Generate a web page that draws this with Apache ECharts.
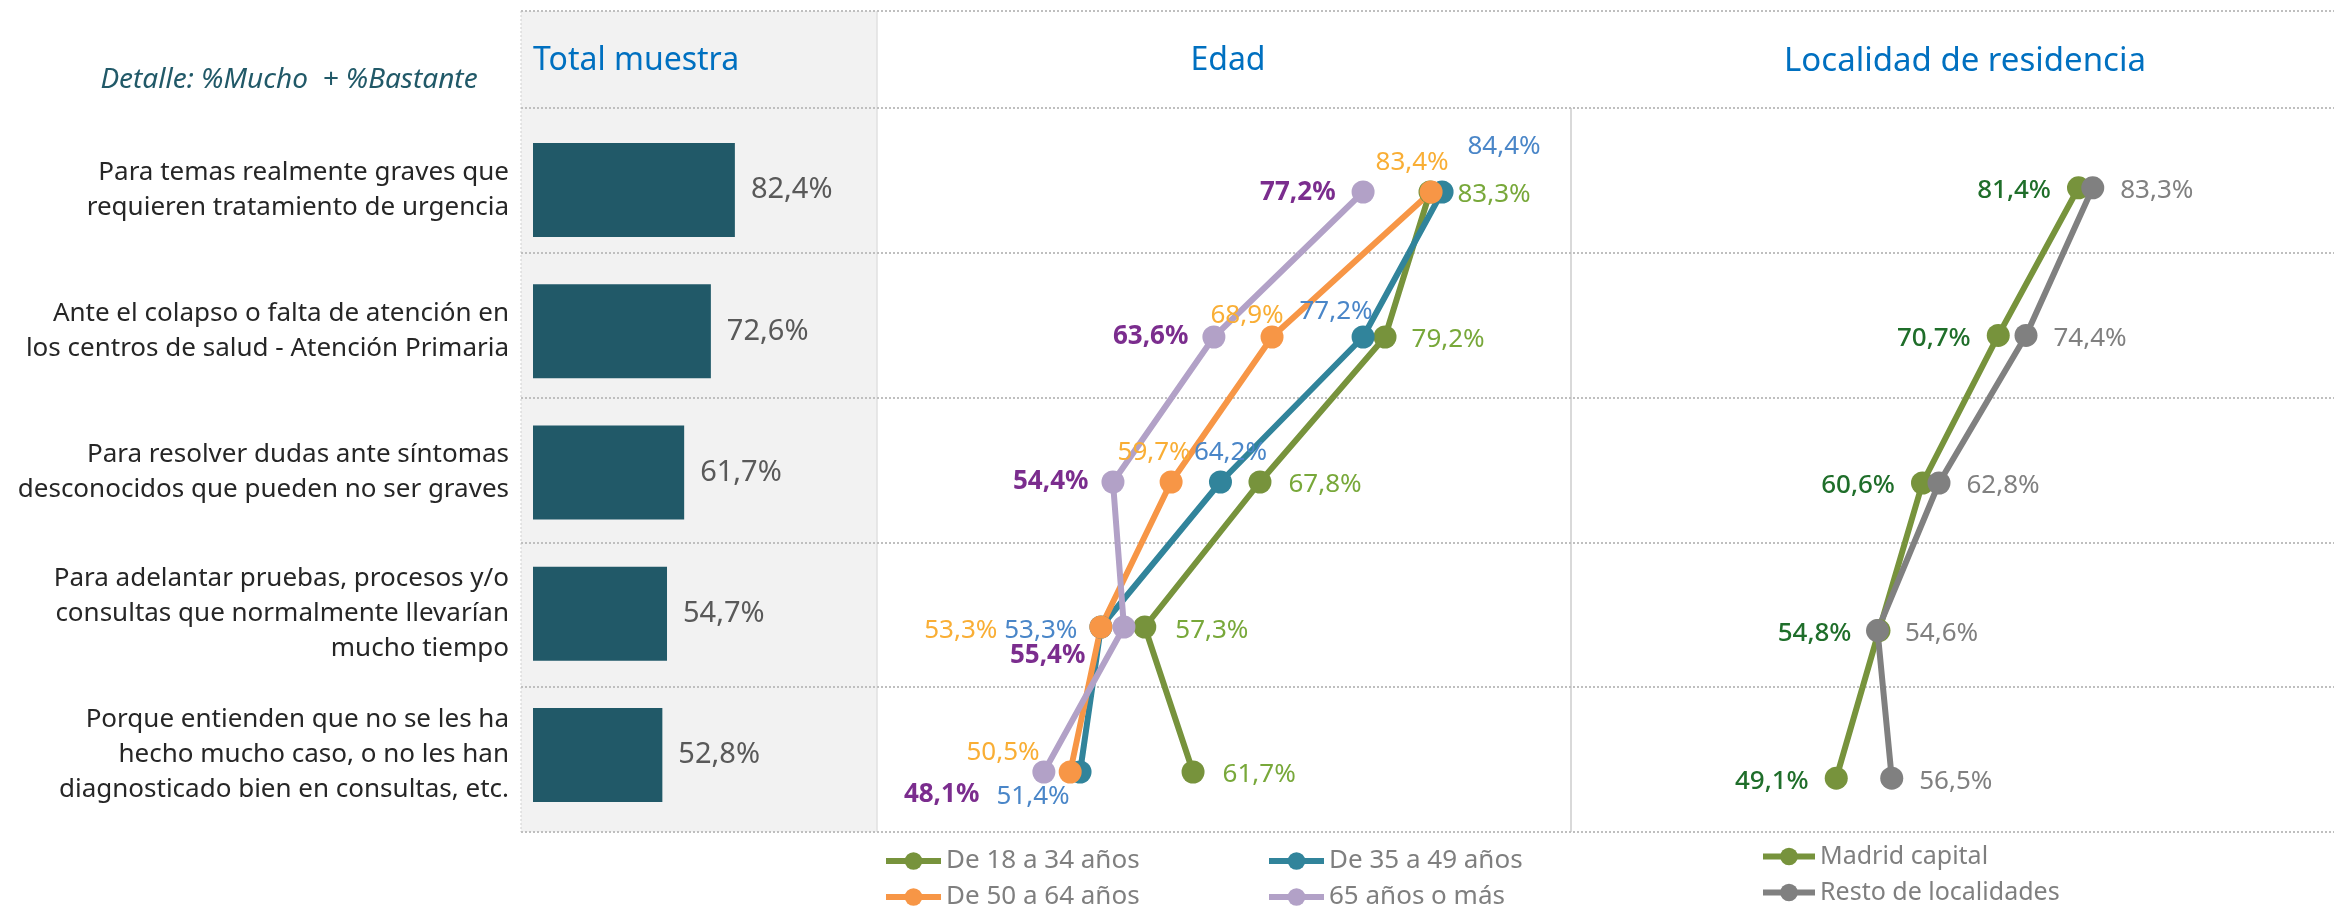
<!DOCTYPE html>
<html>
<head>
<meta charset="utf-8">
<script src="https://cdn.jsdelivr.net/npm/echarts@6/dist/echarts.min.js"></script>
<style>
  html, body { margin: 0; padding: 0; background: #fff; }
  #chart { width: 2334px; height: 909px; }
</style>
</head>
<body>
<div id="chart"></div>
<script>
// categories (motivos)
const items = [
  'Para temas realmente graves que\nrequieren tratamiento de urgencia',
  'Ante el colapso o falta de atención en\nlos centros de salud - Atención Primaria',
  'Para resolver dudas ante síntomas\ndesconocidos que pueden no ser graves',
  'Para adelantar pruebas, procesos y/o\nconsultas que normalmente llevarían\nmucho tiempo',
  'Porque entienden que no se les ha\nhecho mucho caso, o no les han\ndiagnosticado bien en consultas, etc.'
];

const totalMuestra = [82.4, 72.6, 61.7, 54.7, 52.8];

const edad18a34 = [83.3, 79.2, 67.8, 57.3, 61.7];
const edad35a49 = [84.4, 77.2, 64.2, 53.3, 51.4];
const edad50a64 = [83.4, 68.9, 59.7, 53.3, 50.5];
const edad65mas = [77.2, 63.6, 54.4, 55.4, 48.1];

const madridCapital = [81.4, 70.7, 60.6, 54.8, 49.1];
const restoLocalidades = [83.3, 74.4, 62.8, 54.6, 56.5];

const FONT = 'Noto Sans';
const pct = v => v.toFixed(1).replace('.', ',') + '%';

// label placement per point: [position, distance, offsetX, offsetY]
const placeGreen = [['right', 16, 0, 3], ['right', 15, 0, 3], ['right', 17, 0, 3], ['right', 19, 0, 4], ['right', 18, 0, 3]];
const placeTeal = [['top', 5, 62, -16], ['top', 5, -27, 4], ['top', 5, 10, 0], ['left', 12, 0, 4], ['bottom', 5, -47, -5]];
const placeOrange = [['top', 5, -19, 0], ['top', 5, -25, 8], ['top', 5, -17, 0], ['left', 92, 0, 4], ['left', 19, 0, -19]];
const placePurple = [['left', 16, 0, 1], ['left', 14, 0, 0], ['left', 13, 0, 0], ['left', 27, 0, 29], ['left', 53, 0, 23]];
const placeMadrid = [0, 1, 2, 3, 4].map(() => ['left', 16, 0, 3]);
const placeResto = [0, 1, 2, 3, 4].map(() => ['right', 16, 0, 3]);

function lineSeries(name, values, place, lineColor, labelColor, axis, weight) {
  return {
    name: name,
    type: 'line',
    xAxisIndex: axis,
    yAxisIndex: axis,
    symbol: 'circle',
    symbolSize: 23,
    lineStyle: { color: lineColor, width: 6 },
    itemStyle: { color: lineColor },
    emphasis: { disabled: true },
    data: values.map((v, i) => ({
      value: [v, items[i]],
      label: {
        show: true,
        position: place[i][0],
        distance: place[i][1],
        offset: [place[i][2], place[i][3]],
        formatter: pct(v),
        color: labelColor,
        fontFamily: FONT,
        fontSize: 26,
        fontWeight: weight || 'normal'
      }
    }))
  };
}

const sepY = [11, 108, 253, 398, 543, 687, 832];
const graphics = [
  { type: 'rect', shape: { x: 521, y: 11, width: 356, height: 821 }, style: { fill: '#f2f2f2' }, z: -10 },
  { type: 'line', shape: { x1: 521, y1: 11, x2: 521, y2: 832 }, style: { stroke: '#d0d0d0', lineWidth: 1, lineDash: [2, 2] }, z: -5 },
  { type: 'line', shape: { x1: 877, y1: 11, x2: 877, y2: 832 }, style: { stroke: '#e0e0e0', lineWidth: 1.5 }, z: -5 },
  { type: 'line', shape: { x1: 1571, y1: 108, x2: 1571, y2: 832 }, style: { stroke: '#d9d9d9', lineWidth: 2 }, z: -5 }
].concat(sepY.map(y => ({
  type: 'line',
  shape: { x1: 521, y1: y, x2: 2334, y2: y },
  style: { stroke: '#bfbfbf', lineWidth: 2, lineDash: [2, 2] },
  z: -5
})));

const titleStyle = { color: '#0070c0', fontFamily: FONT, fontSize: 32, fontWeight: 'normal' };
const legendText = { color: '#7f7f7f', fontFamily: FONT, fontSize: 26 };

function ageLegend(name, left, top) {
  return {
    data: [name], left: left, top: top, padding: 0,
    itemWidth: 55, itemHeight: 22, itemGap: 5,
    lineStyle: { width: 6 },
    textStyle: legendText, selectedMode: false
  };
}

const chart = echarts.init(document.getElementById('chart'));
chart.setOption({
  animation: false,
  backgroundColor: '#ffffff',
  graphic: graphics,
  title: [
    { text: 'Total muestra', left: 533, top: 45, padding: 0, textStyle: titleStyle },
    { text: 'Edad', left: 1228, top: 45, padding: 0, textAlign: 'center', textStyle: titleStyle },
    { text: 'Localidad de residencia', left: 1965, top: 45, padding: 0, textStyle: Object.assign({}, titleStyle, { fontSize: 33 }), textAlign: 'center' },
    {
      text: 'Detalle: %Mucho  + %Bastante', left: 289, top: 66, padding: 0, textAlign: 'center',
      textStyle: { color: '#215968', fontFamily: FONT, fontSize: 28, fontStyle: 'italic', fontWeight: 'normal' }
    }
  ],
  legend: [
    ageLegend('De 18 a 34 años', 883, 848),
    ageLegend('De 35 a 49 años', 1266, 848),
    ageLegend('De 50 a 64 años', 883, 884),
    ageLegend('65 años o más', 1266, 884),
    {
      data: ['Madrid capital', 'Resto de localidades'], orient: 'vertical',
      left: 1760, top: 844, padding: 0, itemWidth: 52, itemHeight: 22, itemGap: 11,
      lineStyle: { width: 6 },
      textStyle: { color: '#7f7f7f', fontFamily: FONT, fontSize: 25 }, selectedMode: false
    }
  ],
  grid: [
    { left: 533, top: 119.5, width: 245, height: 706 },
    { left: 955, top: 119.5, width: 548.5, height: 725 },
    { left: 1768, top: 114, width: 375, height: 738 }
  ],
  xAxis: [
    { type: 'value', gridIndex: 0, min: 0, max: 100, show: false },
    { type: 'value', gridIndex: 1, min: 40, max: 90, show: false },
    { type: 'value', gridIndex: 2, min: 40, max: 90, show: false }
  ],
  yAxis: [
    {
      type: 'category', gridIndex: 0, data: items, inverse: true,
      axisLine: { show: false }, axisTick: { show: false }, splitLine: { show: false },
      axisLabel: { margin: 24, color: '#262626', fontFamily: FONT, fontSize: 26, lineHeight: 35, align: 'right' }
    },
    { type: 'category', gridIndex: 1, data: items, inverse: true, show: false },
    { type: 'category', gridIndex: 2, data: items, inverse: true, show: false }
  ],
  series: [
    {
      name: 'Total muestra',
      type: 'bar',
      xAxisIndex: 0,
      yAxisIndex: 0,
      data: totalMuestra,
      barWidth: 94,
      itemStyle: { color: '#215968' },
      emphasis: { disabled: true },
      label: {
        show: true, position: 'right', distance: 16,
        formatter: p => pct(p.value),
        color: '#595959', fontFamily: FONT, fontSize: 29
      }
    },
    lineSeries('De 18 a 34 años', edad18a34, placeGreen, '#77933c', '#78a83a', 1),
    lineSeries('De 35 a 49 años', edad35a49, placeTeal, '#31849b', '#4a86c8', 1),
    lineSeries('De 50 a 64 años', edad50a64, placeOrange, '#f79646', '#f9ae35', 1),
    lineSeries('65 años o más', edad65mas, placePurple, '#b2a1c7', '#7b2d8e', 1, 'bold'),
    lineSeries('Madrid capital', madridCapital, placeMadrid, '#77933c', '#1f6e2a', 2, 500),
    lineSeries('Resto de localidades', restoLocalidades, placeResto, '#808080', '#808080', 2)
  ]
});
</script>
</body>
</html>
